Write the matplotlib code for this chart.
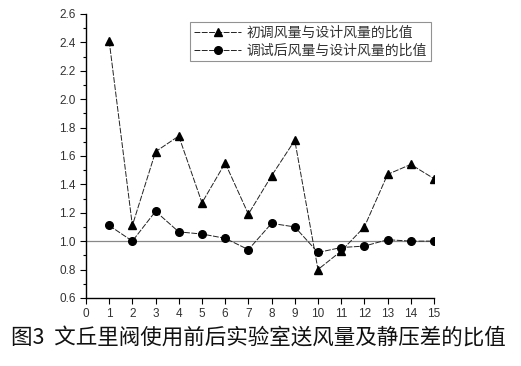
import matplotlib
matplotlib.use("Agg")
import matplotlib.pyplot as plt
from matplotlib.ticker import MultipleLocator

plt.rcParams['font.family'] = ['Noto Sans CJK SC', 'DejaVu Sans']

# Data
points = list(range(1, 16))
initial_ratio = [2.41, 1.11, 1.63, 1.74, 1.27, 1.55, 1.19, 1.46, 1.71,
                 0.80, 0.93, 1.10, 1.47, 1.54, 1.44]
adjusted_ratio = [1.11, 1.00, 1.21, 1.065, 1.05, 1.02, 0.94, 1.125, 1.10,
                  0.92, 0.955, 0.965, 1.01, 1.00, 1.00]
labels = ['初调风量与设计风量的比值', '调试后风量与设计风量的比值']
caption = '图3  文丘里阀使用前后实验室送风量及静压差的比值'

fig = plt.figure(figsize=(5.21, 3.66), dpi=100)
ax = fig.add_axes([0.165, 0.186, 0.668, 0.776])

ax.axhline(1.0, color='#888888', lw=0.9, zorder=1)
ax.plot(points, initial_ratio, color='#222222', lw=0.7, ls=(0, (6, 1.5)),
        marker='^', ms=5.5, mfc='black', mec='black', label=labels[0], zorder=3)
ax.plot(points, adjusted_ratio, color='#222222', lw=0.7, ls=(0, (6, 1.5)),
        marker='o', ms=5.5, mfc='black', mec='black', label=labels[1], zorder=3)

ax.set_xlim(0, 15)
ax.set_ylim(0.6, 2.6)
ax.xaxis.set_major_locator(MultipleLocator(1))
ax.yaxis.set_major_locator(MultipleLocator(0.2))
ax.yaxis.set_minor_locator(MultipleLocator(0.1))
ax.yaxis.set_major_formatter(plt.FuncFormatter(lambda v, p: f'{v:.1f}'))

for side in ['top', 'right']:
    ax.spines[side].set_visible(False)
for side in ['left', 'bottom']:
    ax.spines[side].set_linewidth(1.0)
ax.tick_params(direction='out', length=4, width=0.8, labelsize=8.5,
               labelcolor='#333333')
ax.tick_params(which='minor', direction='out', length=2.5, width=0.8)
ax.tick_params(axis='x', pad=3)
for lab in ax.get_xticklabels() + ax.get_yticklabels():
    lab.set_family('Liberation Sans')

leg = ax.legend(loc='upper right', bbox_to_anchor=(1.01, 0.995), fontsize=10,
                frameon=True, fancybox=False, handlelength=3.4,
                borderpad=0.25, labelspacing=0.3, handletextpad=0.4)
leg.get_frame().set_edgecolor('#777777')
leg.get_frame().set_linewidth(0.8)
for t in leg.get_texts():
    t.set_color('#333333')

fig.text(0.495, 0.077, caption, ha='center', va='center', fontsize=15.5,
         color='#111111')

fig.savefig('out.png', dpi=100)
